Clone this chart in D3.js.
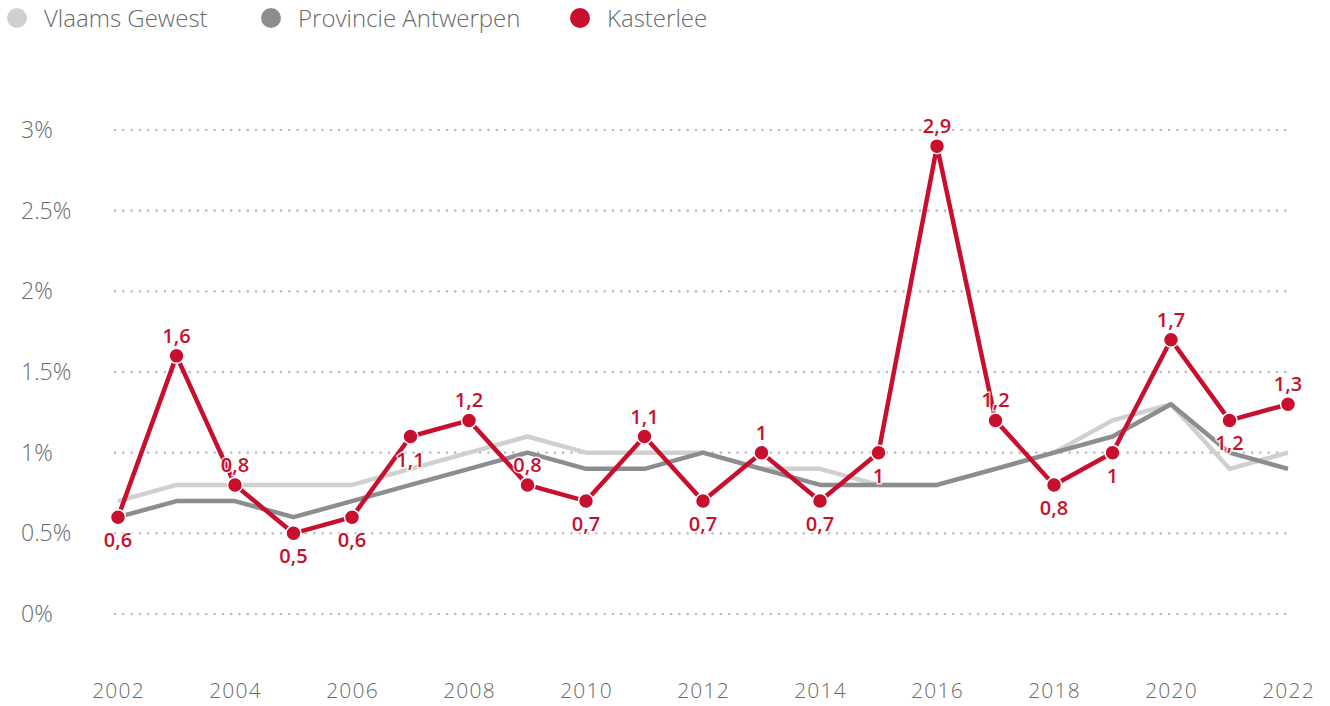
<!DOCTYPE html>
<html><head><meta charset="utf-8">
<script src="https://cdn.jsdelivr.net/npm/d3@7"></script>
<style>body{margin:0;background:#fff}svg{display:block}</style>
</head><body><svg id="c" width="1330" height="706"></svg>
<script>
const years = d3.range(2002, 2023);
const vlaams = [0.7,0.8,0.8,0.8,0.8,0.9,1.0,1.1,1.0,1.0,1.0,0.9,0.9,0.8,0.8,0.9,1.0,1.2,1.3,0.9,1.0];
const antwerpen = [0.6,0.7,0.7,0.6,0.7,0.8,0.9,1.0,0.9,0.9,1.0,0.9,0.8,0.8,0.8,0.9,1.0,1.1,1.3,1.0,0.9];
const kasterlee = [0.6,1.6,0.8,0.5,0.6,1.1,1.2,0.8,0.7,1.1,0.7,1.0,0.7,1.0,2.9,1.2,0.8,1.0,1.7,1.2,1.3];
const labelPos = ["b","a","a","b","b","b","a","a","b","a","b","a","b","b","a","a","b","b","a","b","a"];
const yTicks = [0,0.5,1,1.5,2,2.5,3];
const yTickLabels = ["0%","0.5%","1%","1.5%","2%","2.5%","3%"];
const xTicks = [2002,2004,2006,2008,2010,2012,2014,2016,2018,2020,2022];
const seriesNames = ["Vlaams Gewest","Provincie Antwerpen","Kasterlee"];
const colors = ["#d0d0d0","#8b8d8f","#c8102e"];

const svg = d3.select("#c");
const x = d3.scaleLinear().domain([2002,2022]).range([118,1288]);
const y = d3.scaleLinear().domain([0,3]).range([614,130]);
const font = "'Open Sans', Lato, sans-serif";

// grid
svg.append("g").selectAll("line").data(yTicks).join("line")
  .attr("x1",115).attr("x2",1290).attr("y1",d=>y(d)).attr("y2",d=>y(d))
  .attr("stroke","#bdbdbd").attr("stroke-width",2.6).attr("stroke-linecap","round")
  .attr("stroke-dasharray","0,8.3");
// y labels
svg.append("g").selectAll("text").data(yTicks).join("text")
  .attr("x",21).attr("y",d=>y(d)+8).text((d,i)=>yTickLabels[i])
  .attr("font-family",font).attr("font-weight",300).attr("font-size",23).attr("fill","#6a6a6a");
// x labels
const xAxis = d3.axisBottom(x).tickValues(xTicks).tickFormat(d3.format("d")).tickSize(0);
const gx = svg.append("g").attr("transform","translate(0,695)").call(xAxis);
gx.select(".domain").remove();
gx.selectAll("text").attr("font-family",font).attr("font-weight",300).attr("font-size",21)
  .attr("letter-spacing",1.2).attr("fill","#6a6a6a").attr("dy","0");

const line = d3.line().x((d,i)=>x(years[i])).y(d=>y(d));
[vlaams, antwerpen].forEach((s,k)=>{
  svg.append("path").datum(s).attr("d",line).attr("fill","none")
    .attr("stroke",colors[k]).attr("stroke-width",4.5).attr("stroke-linejoin","round");
});
svg.append("path").datum(kasterlee).attr("d",line).attr("fill","none")
  .attr("stroke",colors[2]).attr("stroke-width",4.5).attr("stroke-linejoin","round");
svg.append("g").selectAll("circle").data(kasterlee).join("circle")
  .attr("cx",(d,i)=>x(years[i])).attr("cy",d=>y(d)).attr("r",7.5)
  .attr("fill",colors[2]).attr("stroke","#fff").attr("stroke-width",1.5);
// labels
const fmt = v => String(v).replace(".",",");
svg.append("g").selectAll("text").data(kasterlee).join("text")
  .attr("x",(d,i)=>x(years[i])).attr("y",(d,i)=>labelPos[i]==="a"? y(d)-13 : y(d)+30)
  .attr("text-anchor","middle").text(d=>fmt(d))
  .attr("font-family",font).attr("font-weight",600).attr("font-size",20).attr("fill",colors[2])
  .attr("stroke","rgba(255,255,255,0.8)").attr("stroke-width",3).attr("paint-order","stroke");

// legend
const legX = [17,271,580];
const lg = svg.append("g").selectAll("g").data(seriesNames).join("g");
lg.append("circle").attr("cx",(d,i)=>legX[i]).attr("cy",18).attr("r",10).attr("fill",(d,i)=>colors[i]);
lg.append("text").attr("x",(d,i)=>legX[i]+27).attr("y",27).text(d=>d)
  .attr("font-family",font).attr("font-weight",300).attr("font-size",24).attr("fill","#6a6a6a");
</script></body></html>
